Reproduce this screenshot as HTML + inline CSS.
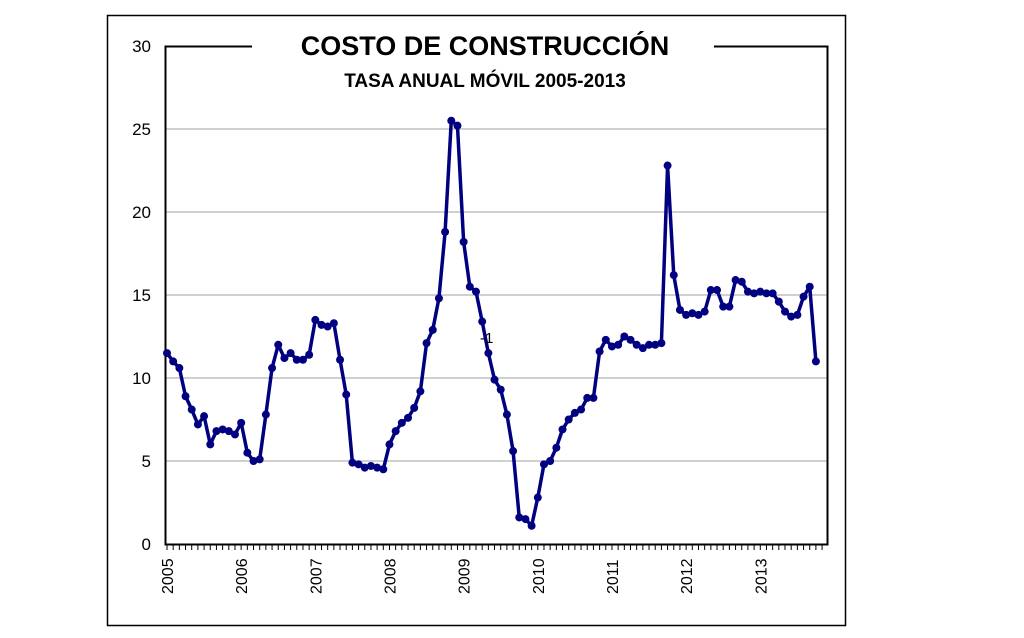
<!DOCTYPE html>
<html><head><meta charset="utf-8"><style>
body{margin:0;background:#fff;width:1024px;height:633px;overflow:hidden;font-family:"Liberation Sans",sans-serif}
</style></head><body>
<svg id="chart" width="1024" height="633" xmlns="http://www.w3.org/2000/svg">
<rect x="107.5" y="15.5" width="738" height="610" fill="#fff" stroke="#000" stroke-width="1.5"/>
<g id="grid"></g>
<rect x="165.5" y="46.5" width="662" height="498" fill="none" stroke="#000" stroke-width="2"/>
<rect x="252" y="30" width="462" height="34" fill="#fff"/>
<text x="485" y="55" text-anchor="middle" font-size="27" font-weight="bold">COSTO DE CONSTRUCCIÓN</text>
<text x="485" y="87" text-anchor="middle" font-size="19" font-weight="bold">TASA ANUAL MÓVIL 2005-2013</text>
<g id="axes"></g>
<g id="series"></g>
<text x="480" y="343" font-size="15">-1</text>
</svg>
<script>
const years=["2005","2006","2007","2008","2009","2010","2011","2012","2013"];
const yTicks=[0,5,10,15,20,25,30];
const values=[
11.5,11.0,10.6,8.9,8.1,7.2,7.7,6.0,6.8,6.9,6.8,6.6,
7.3,5.5,5.0,5.1,7.8,10.6,12.0,11.2,11.5,11.1,11.1,11.4,
13.5,13.2,13.1,13.3,11.1,9.0,4.9,4.8,4.6,4.7,4.6,4.5,
6.0,6.8,7.3,7.6,8.2,9.2,12.1,12.9,14.8,18.8,25.5,25.2,
18.2,15.5,15.2,13.4,11.5,9.9,9.3,7.8,5.6,1.6,1.5,1.1,
2.8,4.8,5.0,5.8,6.9,7.5,7.9,8.1,8.8,8.8,11.6,12.3,
11.9,12.0,12.5,12.3,12.0,11.8,12.0,12.0,12.1,22.8,16.2,14.1,
13.8,13.9,13.8,14.0,15.3,15.3,14.3,14.3,15.9,15.8,15.2,15.1,
15.2,15.1,15.1,14.6,14.0,13.7,13.8,14.9,15.5,11.0];
const NS="http://www.w3.org/2000/svg";
const x0=167,mw=6.18,yb=544,yt=46;
const xs=i=>x0+i*mw;
const ys=v=>yb-(v/30)*(yb-yt);
function mk(t,a,p){const e=document.createElementNS(NS,t);for(const k in a)e.setAttribute(k,a[k]);p.appendChild(e);return e;}
const grid=document.getElementById('grid'),axes=document.getElementById('axes'),ser=document.getElementById('series');
yTicks.forEach(v=>{
 if(v>0&&v<30){const g=mk('line',{x1:166,x2:827,y1:ys(v),y2:ys(v),stroke:'#c0c0c0','stroke-width':1.5},grid);
 
 }
 const t=mk('text',{x:151,y:ys(v)+6,'text-anchor':'end','font-size':17},axes);t.textContent=v;
 
 
});
for(let i=0;i<=106;i++){const l=mk('line',{x1:xs(i),x2:xs(i),y1:544,y2:550,stroke:'#000','stroke-width':1},axes);
 
 }
years.forEach((y,k)=>{const x=xs(k*12)+6;const t=mk('text',{x:x,y:594,'font-size':16,transform:`rotate(-90 ${x} 594)`},axes);t.textContent=y;
 
 });
const pl=mk('polyline',{points:values.map((v,i)=>xs(i)+','+ys(v)).join(' '),fill:'none',stroke:'#000080','stroke-width':3.5,'stroke-linejoin':'round'},ser);


values.forEach((v,i)=>{const c=mk('circle',{cx:xs(i),cy:ys(v),r:4,fill:'#000080'},ser);
 
 });
</script>
</body></html>
